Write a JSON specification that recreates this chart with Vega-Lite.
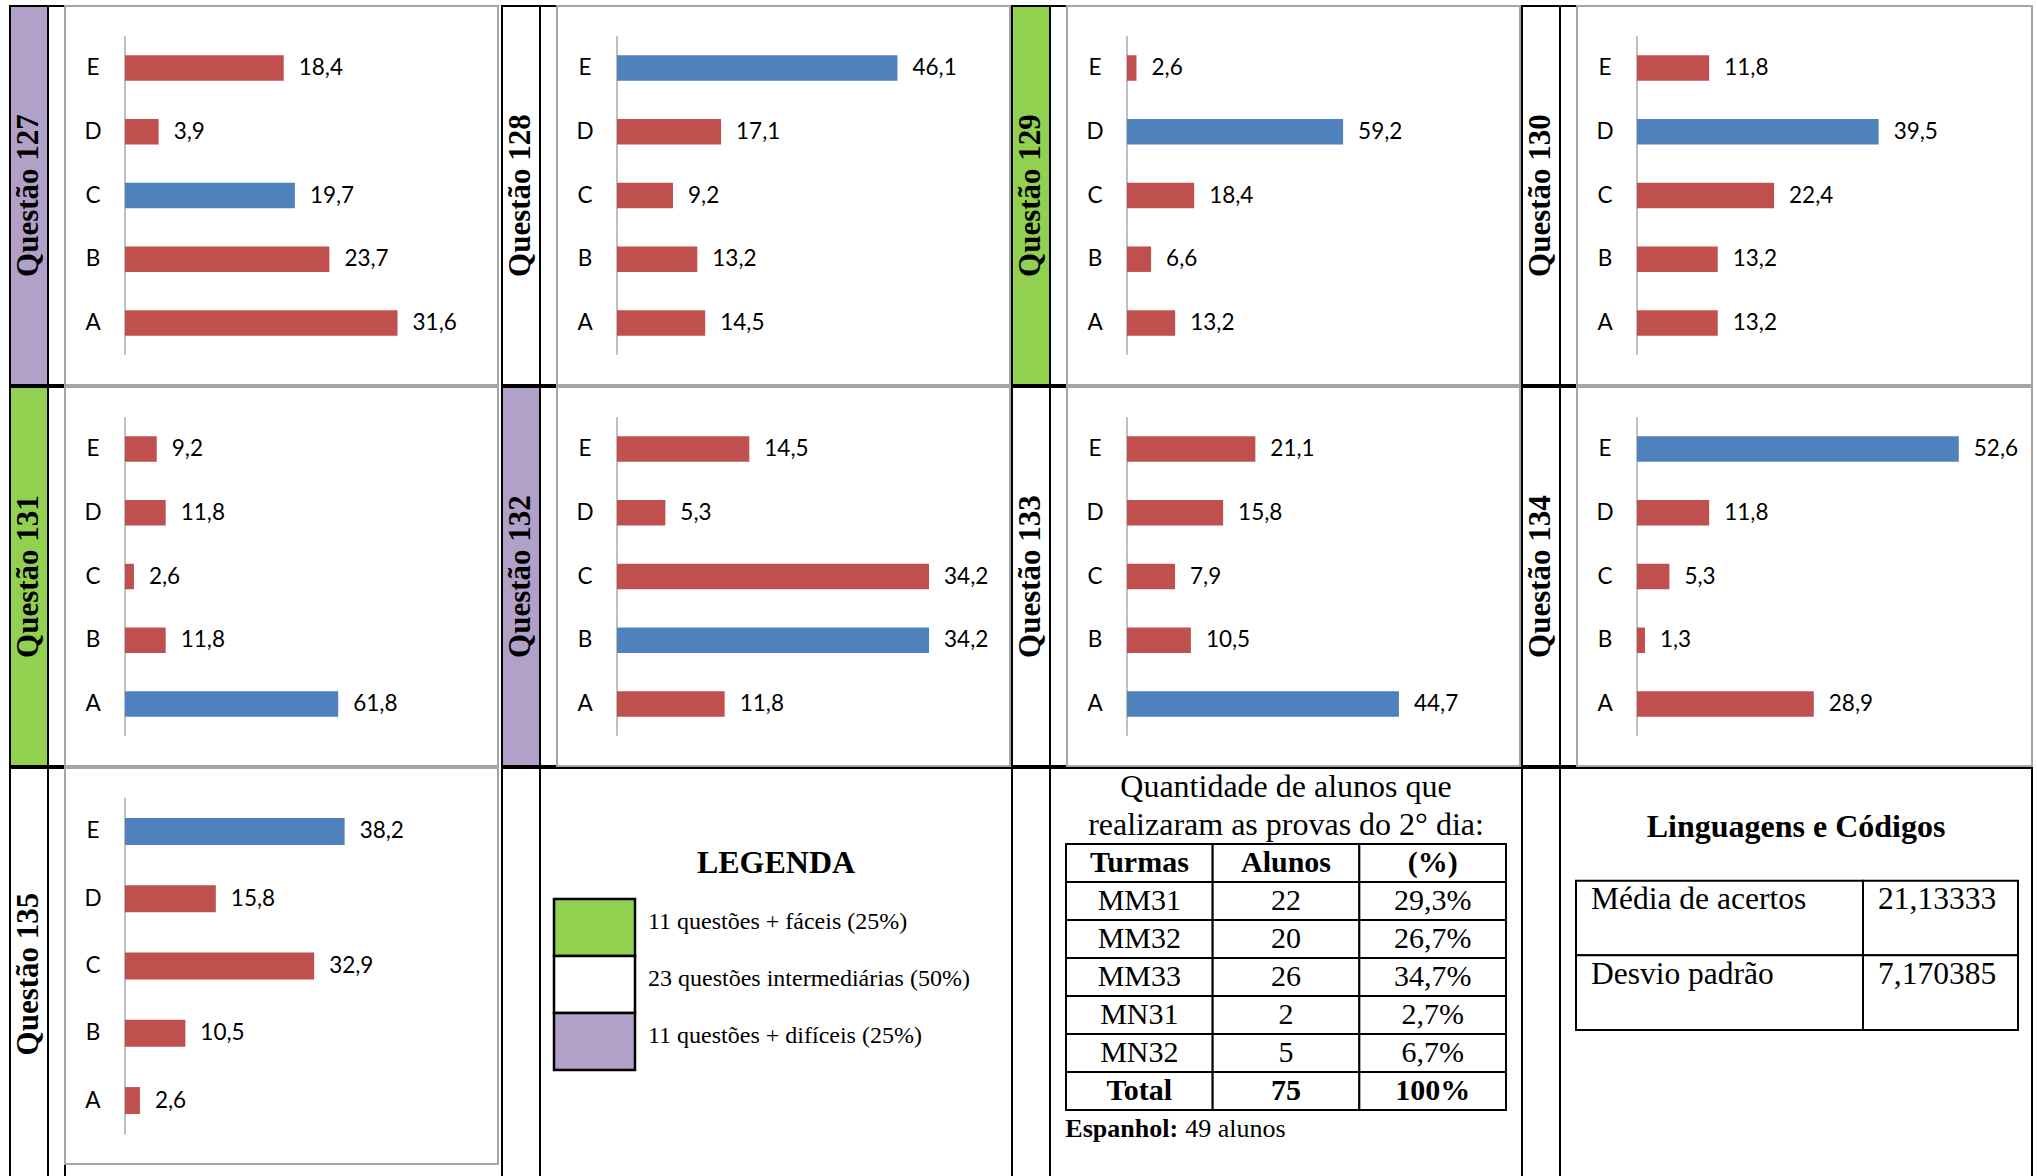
{
  "$schema": "https://vega.github.io/schema/vega-lite/v6.json",
  "padding": {"left": 9, "top": 5, "right": 0, "bottom": 0},
  "background": "white",
  "config": {
    "view": {"stroke": null},
    "locale": {"number": {"decimal": ",", "thousands": ".", "grouping": [3], "currency": ["R$", ""]}},
    "text": {"color": "black"}
  },
  "datasets": {
    "questoes": [
      {"questao": "Questão 127", "nivel": "difícil"},
      {"questao": "Questão 128", "nivel": "intermediária"},
      {"questao": "Questão 129", "nivel": "fácil"},
      {"questao": "Questão 130", "nivel": "intermediária"},
      {"questao": "Questão 131", "nivel": "fácil"},
      {"questao": "Questão 132", "nivel": "difícil"},
      {"questao": "Questão 133", "nivel": "intermediária"},
      {"questao": "Questão 134", "nivel": "intermediária"},
      {"questao": "Questão 135", "nivel": "intermediária"}
    ],
    "respostas": [
      {"questao": "Questão 127", "opcao": "A", "percentual": 31.6, "correta": "não"},
      {"questao": "Questão 127", "opcao": "B", "percentual": 23.7, "correta": "não"},
      {"questao": "Questão 127", "opcao": "C", "percentual": 19.7, "correta": "sim"},
      {"questao": "Questão 127", "opcao": "D", "percentual": 3.9, "correta": "não"},
      {"questao": "Questão 127", "opcao": "E", "percentual": 18.4, "correta": "não"},
      {"questao": "Questão 128", "opcao": "A", "percentual": 14.5, "correta": "não"},
      {"questao": "Questão 128", "opcao": "B", "percentual": 13.2, "correta": "não"},
      {"questao": "Questão 128", "opcao": "C", "percentual": 9.2, "correta": "não"},
      {"questao": "Questão 128", "opcao": "D", "percentual": 17.1, "correta": "não"},
      {"questao": "Questão 128", "opcao": "E", "percentual": 46.1, "correta": "sim"},
      {"questao": "Questão 129", "opcao": "A", "percentual": 13.2, "correta": "não"},
      {"questao": "Questão 129", "opcao": "B", "percentual": 6.6, "correta": "não"},
      {"questao": "Questão 129", "opcao": "C", "percentual": 18.4, "correta": "não"},
      {"questao": "Questão 129", "opcao": "D", "percentual": 59.2, "correta": "sim"},
      {"questao": "Questão 129", "opcao": "E", "percentual": 2.6, "correta": "não"},
      {"questao": "Questão 130", "opcao": "A", "percentual": 13.2, "correta": "não"},
      {"questao": "Questão 130", "opcao": "B", "percentual": 13.2, "correta": "não"},
      {"questao": "Questão 130", "opcao": "C", "percentual": 22.4, "correta": "não"},
      {"questao": "Questão 130", "opcao": "D", "percentual": 39.5, "correta": "sim"},
      {"questao": "Questão 130", "opcao": "E", "percentual": 11.8, "correta": "não"},
      {"questao": "Questão 131", "opcao": "A", "percentual": 61.8, "correta": "sim"},
      {"questao": "Questão 131", "opcao": "B", "percentual": 11.8, "correta": "não"},
      {"questao": "Questão 131", "opcao": "C", "percentual": 2.6, "correta": "não"},
      {"questao": "Questão 131", "opcao": "D", "percentual": 11.8, "correta": "não"},
      {"questao": "Questão 131", "opcao": "E", "percentual": 9.2, "correta": "não"},
      {"questao": "Questão 132", "opcao": "A", "percentual": 11.8, "correta": "não"},
      {"questao": "Questão 132", "opcao": "B", "percentual": 34.2, "correta": "sim"},
      {"questao": "Questão 132", "opcao": "C", "percentual": 34.2, "correta": "não"},
      {"questao": "Questão 132", "opcao": "D", "percentual": 5.3, "correta": "não"},
      {"questao": "Questão 132", "opcao": "E", "percentual": 14.5, "correta": "não"},
      {"questao": "Questão 133", "opcao": "A", "percentual": 44.7, "correta": "sim"},
      {"questao": "Questão 133", "opcao": "B", "percentual": 10.5, "correta": "não"},
      {"questao": "Questão 133", "opcao": "C", "percentual": 7.9, "correta": "não"},
      {"questao": "Questão 133", "opcao": "D", "percentual": 15.8, "correta": "não"},
      {"questao": "Questão 133", "opcao": "E", "percentual": 21.1, "correta": "não"},
      {"questao": "Questão 134", "opcao": "A", "percentual": 28.9, "correta": "não"},
      {"questao": "Questão 134", "opcao": "B", "percentual": 1.3, "correta": "não"},
      {"questao": "Questão 134", "opcao": "C", "percentual": 5.3, "correta": "não"},
      {"questao": "Questão 134", "opcao": "D", "percentual": 11.8, "correta": "não"},
      {"questao": "Questão 134", "opcao": "E", "percentual": 52.6, "correta": "sim"},
      {"questao": "Questão 135", "opcao": "A", "percentual": 2.6, "correta": "não"},
      {"questao": "Questão 135", "opcao": "B", "percentual": 10.5, "correta": "não"},
      {"questao": "Questão 135", "opcao": "C", "percentual": 32.9, "correta": "não"},
      {"questao": "Questão 135", "opcao": "D", "percentual": 15.8, "correta": "não"},
      {"questao": "Questão 135", "opcao": "E", "percentual": 38.2, "correta": "sim"}
    ],
    "legenda": [
      {"nivel": "fácil", "descricao": "11 questões + fáceis (25%)"},
      {"nivel": "intermediária", "descricao": "23 questões intermediárias (50%)"},
      {"nivel": "difícil", "descricao": "11 questões + difíceis (25%)"}
    ],
    "titulo_tabela": [
      {"linha": "Quantidade de alunos que"},
      {"linha": "realizaram as provas do 2° dia:"}
    ],
    "turmas": [
      {"Turmas": "Turmas", "Alunos": "Alunos", "Percentual": "(%)"},
      {"Turmas": "MM31", "Alunos": 22, "Percentual": "29,3%"},
      {"Turmas": "MM32", "Alunos": 20, "Percentual": "26,7%"},
      {"Turmas": "MM33", "Alunos": 26, "Percentual": "34,7%"},
      {"Turmas": "MN31", "Alunos": 2, "Percentual": "2,7%"},
      {"Turmas": "MN32", "Alunos": 5, "Percentual": "6,7%"},
      {"Turmas": "Total", "Alunos": 75, "Percentual": "100%"}
    ],
    "nota": [{"rotulo": "Espanhol:", "valor": "49 alunos"}],
    "linguagens": [
      {"medida": "Média de acertos", "valor": "21,13333"},
      {"medida": "Desvio padrão", "valor": "7,170385"}
    ]
  },
  "vconcat": [
    {
      "hconcat": [
        {"width": 38, "height": 379, "data": {"name": "questoes"}, "transform": [{"filter": "datum.questao == 'Questão 127'"}],
         "layer": [
           {"mark": {"type": "rect", "stroke": "black", "strokeWidth": 2}, "encoding": {"fill": {"field": "nivel", "type": "nominal", "scale": {"domain": ["fácil", "intermediária", "difícil"], "range": ["#92D050", "#FFFFFF", "#B1A0C7"]}, "legend": null}}},
           {"mark": {"type": "text", "angle": 270, "font": "Liberation Serif", "fontSize": 31, "fontWeight": "bold", "color": "black"}, "encoding": {"text": {"field": "questao"}}}
         ]},
        {"width": 17, "height": 379, "view": {"stroke": "black", "strokeWidth": 2}, "data": {"values": []}, "mark": "point", "encoding": {}},
        {"width": 433, "height": 379, "view": {"stroke": "#a6a6a6", "strokeWidth": 2}, "data": {"name": "respostas"}, "transform": [{"filter": "datum.questao == 'Questão 127'"}],
         "encoding": {"y": {"field": "opcao", "type": "nominal", "axis": null, "scale": {"type": "band", "domain": ["E", "D", "C", "B", "A"], "paddingInner": 0.6, "paddingOuter": 0.775}}},
         "layer": [
           {"mark": {"type": "tick", "color": "#868686", "thickness": 1.5, "size": 63.7}, "encoding": {"x": {"datum": 0, "type": "quantitative", "scale": {"domain": [-6.957, 43.25], "nice": false}, "axis": null}}},
           {"mark": {"type": "bar"}, "encoding": {"x": {"field": "percentual", "type": "quantitative", "scale": {"domain": [-6.957, 43.25], "nice": false}, "axis": null}, "color": {"field": "correta", "type": "nominal", "scale": {"domain": ["não", "sim"], "range": ["#C0504D", "#4F81BD"]}, "legend": null}}},
           {"mark": {"type": "text", "dx": -32, "font": "Lato", "fontSize": 22.5}, "encoding": {"x": {"datum": 0, "type": "quantitative"}, "text": {"field": "opcao"}}},
           {"mark": {"type": "text", "align": "left", "dx": 15, "font": "Lato", "fontSize": 22.5}, "encoding": {"x": {"field": "percentual", "type": "quantitative"}, "text": {"field": "percentual", "type": "quantitative", "format": ".1f"}}}
         ]},
        {"width": 4, "height": 379, "data": {"values": []}, "mark": "point", "encoding": {}},
        {"width": 38, "height": 379, "data": {"name": "questoes"}, "transform": [{"filter": "datum.questao == 'Questão 128'"}],
         "layer": [
           {"mark": {"type": "rect", "stroke": "black", "strokeWidth": 2}, "encoding": {"fill": {"field": "nivel", "type": "nominal", "scale": {"domain": ["fácil", "intermediária", "difícil"], "range": ["#92D050", "#FFFFFF", "#B1A0C7"]}, "legend": null}}},
           {"mark": {"type": "text", "angle": 270, "font": "Liberation Serif", "fontSize": 31, "fontWeight": "bold", "color": "black"}, "encoding": {"text": {"field": "questao"}}}
         ]},
        {"width": 17, "height": 379, "view": {"stroke": "black", "strokeWidth": 2}, "data": {"values": []}, "mark": "point", "encoding": {}},
        {"width": 453, "height": 379, "view": {"stroke": "#a6a6a6", "strokeWidth": 2}, "data": {"name": "respostas"}, "transform": [{"filter": "datum.questao == 'Questão 128'"}],
         "encoding": {"y": {"field": "opcao", "type": "nominal", "axis": null, "scale": {"type": "band", "domain": ["E", "D", "C", "B", "A"], "paddingInner": 0.6, "paddingOuter": 0.775}}},
         "layer": [
           {"mark": {"type": "tick", "color": "#868686", "thickness": 1.5, "size": 63.7}, "encoding": {"x": {"datum": 0, "type": "quantitative", "scale": {"domain": [-9.863, 64.6], "nice": false}, "axis": null}}},
           {"mark": {"type": "bar"}, "encoding": {"x": {"field": "percentual", "type": "quantitative", "scale": {"domain": [-9.863, 64.6], "nice": false}, "axis": null}, "color": {"field": "correta", "type": "nominal", "scale": {"domain": ["não", "sim"], "range": ["#C0504D", "#4F81BD"]}, "legend": null}}},
           {"mark": {"type": "text", "dx": -32, "font": "Lato", "fontSize": 22.5}, "encoding": {"x": {"datum": 0, "type": "quantitative"}, "text": {"field": "opcao"}}},
           {"mark": {"type": "text", "align": "left", "dx": 15, "font": "Lato", "fontSize": 22.5}, "encoding": {"x": {"field": "percentual", "type": "quantitative"}, "text": {"field": "percentual", "type": "quantitative", "format": ".1f"}}}
         ]},
        {"width": 2, "height": 379, "data": {"values": []}, "mark": "point", "encoding": {}},
        {"width": 38, "height": 379, "data": {"name": "questoes"}, "transform": [{"filter": "datum.questao == 'Questão 129'"}],
         "layer": [
           {"mark": {"type": "rect", "stroke": "black", "strokeWidth": 2}, "encoding": {"fill": {"field": "nivel", "type": "nominal", "scale": {"domain": ["fácil", "intermediária", "difícil"], "range": ["#92D050", "#FFFFFF", "#B1A0C7"]}, "legend": null}}},
           {"mark": {"type": "text", "angle": 270, "font": "Liberation Serif", "fontSize": 31, "fontWeight": "bold", "color": "black"}, "encoding": {"text": {"field": "questao"}}}
         ]},
        {"width": 17, "height": 379, "view": {"stroke": "black", "strokeWidth": 2}, "data": {"values": []}, "mark": "point", "encoding": {}},
        {"width": 453, "height": 379, "view": {"stroke": "#a6a6a6", "strokeWidth": 2}, "data": {"name": "respostas"}, "transform": [{"filter": "datum.questao == 'Questão 129'"}],
         "encoding": {"y": {"field": "opcao", "type": "nominal", "axis": null, "scale": {"type": "band", "domain": ["E", "D", "C", "B", "A"], "paddingInner": 0.6, "paddingOuter": 0.775}}},
         "layer": [
           {"mark": {"type": "tick", "color": "#868686", "thickness": 1.5, "size": 63.7}, "encoding": {"x": {"datum": 0, "type": "quantitative", "scale": {"domain": [-16.44, 107.67], "nice": false}, "axis": null}}},
           {"mark": {"type": "bar"}, "encoding": {"x": {"field": "percentual", "type": "quantitative", "scale": {"domain": [-16.44, 107.67], "nice": false}, "axis": null}, "color": {"field": "correta", "type": "nominal", "scale": {"domain": ["não", "sim"], "range": ["#C0504D", "#4F81BD"]}, "legend": null}}},
           {"mark": {"type": "text", "dx": -32, "font": "Lato", "fontSize": 22.5}, "encoding": {"x": {"datum": 0, "type": "quantitative"}, "text": {"field": "opcao"}}},
           {"mark": {"type": "text", "align": "left", "dx": 15, "font": "Lato", "fontSize": 22.5}, "encoding": {"x": {"field": "percentual", "type": "quantitative"}, "text": {"field": "percentual", "type": "quantitative", "format": ".1f"}}}
         ]},
        {"width": 2, "height": 379, "data": {"values": []}, "mark": "point", "encoding": {}},
        {"width": 38, "height": 379, "data": {"name": "questoes"}, "transform": [{"filter": "datum.questao == 'Questão 130'"}],
         "layer": [
           {"mark": {"type": "rect", "stroke": "black", "strokeWidth": 2}, "encoding": {"fill": {"field": "nivel", "type": "nominal", "scale": {"domain": ["fácil", "intermediária", "difícil"], "range": ["#92D050", "#FFFFFF", "#B1A0C7"]}, "legend": null}}},
           {"mark": {"type": "text", "angle": 270, "font": "Liberation Serif", "fontSize": 31, "fontWeight": "bold", "color": "black"}, "encoding": {"text": {"field": "questao"}}}
         ]},
        {"width": 17, "height": 379, "view": {"stroke": "black", "strokeWidth": 2}, "data": {"values": []}, "mark": "point", "encoding": {}},
        {"width": 455, "height": 379, "view": {"stroke": "#a6a6a6", "strokeWidth": 2}, "data": {"name": "respostas"}, "transform": [{"filter": "datum.questao == 'Questão 130'"}],
         "encoding": {"y": {"field": "opcao", "type": "nominal", "axis": null, "scale": {"type": "band", "domain": ["E", "D", "C", "B", "A"], "paddingInner": 0.6, "paddingOuter": 0.775}}},
         "layer": [
           {"mark": {"type": "tick", "color": "#868686", "thickness": 1.5, "size": 63.7}, "encoding": {"x": {"datum": 0, "type": "quantitative", "scale": {"domain": [-9.809, 64.57], "nice": false}, "axis": null}}},
           {"mark": {"type": "bar"}, "encoding": {"x": {"field": "percentual", "type": "quantitative", "scale": {"domain": [-9.809, 64.57], "nice": false}, "axis": null}, "color": {"field": "correta", "type": "nominal", "scale": {"domain": ["não", "sim"], "range": ["#C0504D", "#4F81BD"]}, "legend": null}}},
           {"mark": {"type": "text", "dx": -32, "font": "Lato", "fontSize": 22.5}, "encoding": {"x": {"datum": 0, "type": "quantitative"}, "text": {"field": "opcao"}}},
           {"mark": {"type": "text", "align": "left", "dx": 15, "font": "Lato", "fontSize": 22.5}, "encoding": {"x": {"field": "percentual", "type": "quantitative"}, "text": {"field": "percentual", "type": "quantitative", "format": ".1f"}}}
         ]}
      ],
      "spacing": 0, "bounds": "flush"
    },
    {
      "hconcat": [
        {"width": 38, "height": 379, "data": {"name": "questoes"}, "transform": [{"filter": "datum.questao == 'Questão 131'"}],
         "layer": [
           {"mark": {"type": "rect", "stroke": "black", "strokeWidth": 2}, "encoding": {"fill": {"field": "nivel", "type": "nominal", "scale": {"domain": ["fácil", "intermediária", "difícil"], "range": ["#92D050", "#FFFFFF", "#B1A0C7"]}, "legend": null}}},
           {"mark": {"type": "text", "angle": 270, "font": "Liberation Serif", "fontSize": 31, "fontWeight": "bold", "color": "black"}, "encoding": {"text": {"field": "questao"}}}
         ]},
        {"width": 17, "height": 379, "view": {"stroke": "black", "strokeWidth": 2}, "data": {"values": []}, "mark": "point", "encoding": {}},
        {"width": 433, "height": 379, "view": {"stroke": "#a6a6a6", "strokeWidth": 2}, "data": {"name": "respostas"}, "transform": [{"filter": "datum.questao == 'Questão 131'"}],
         "encoding": {"y": {"field": "opcao", "type": "nominal", "axis": null, "scale": {"type": "band", "domain": ["E", "D", "C", "B", "A"], "paddingInner": 0.6, "paddingOuter": 0.775}}},
         "layer": [
           {"mark": {"type": "tick", "color": "#868686", "thickness": 1.5, "size": 63.7}, "encoding": {"x": {"datum": 0, "type": "quantitative", "scale": {"domain": [-17.39, 108.12], "nice": false}, "axis": null}}},
           {"mark": {"type": "bar"}, "encoding": {"x": {"field": "percentual", "type": "quantitative", "scale": {"domain": [-17.39, 108.12], "nice": false}, "axis": null}, "color": {"field": "correta", "type": "nominal", "scale": {"domain": ["não", "sim"], "range": ["#C0504D", "#4F81BD"]}, "legend": null}}},
           {"mark": {"type": "text", "dx": -32, "font": "Lato", "fontSize": 22.5}, "encoding": {"x": {"datum": 0, "type": "quantitative"}, "text": {"field": "opcao"}}},
           {"mark": {"type": "text", "align": "left", "dx": 15, "font": "Lato", "fontSize": 22.5}, "encoding": {"x": {"field": "percentual", "type": "quantitative"}, "text": {"field": "percentual", "type": "quantitative", "format": ".1f"}}}
         ]},
        {"width": 4, "height": 379, "data": {"values": []}, "mark": "point", "encoding": {}},
        {"width": 38, "height": 379, "data": {"name": "questoes"}, "transform": [{"filter": "datum.questao == 'Questão 132'"}],
         "layer": [
           {"mark": {"type": "rect", "stroke": "black", "strokeWidth": 2}, "encoding": {"fill": {"field": "nivel", "type": "nominal", "scale": {"domain": ["fácil", "intermediária", "difícil"], "range": ["#92D050", "#FFFFFF", "#B1A0C7"]}, "legend": null}}},
           {"mark": {"type": "text", "angle": 270, "font": "Liberation Serif", "fontSize": 31, "fontWeight": "bold", "color": "black"}, "encoding": {"text": {"field": "questao"}}}
         ]},
        {"width": 17, "height": 379, "view": {"stroke": "black", "strokeWidth": 2}, "data": {"values": []}, "mark": "point", "encoding": {}},
        {"width": 453, "height": 379, "view": {"stroke": "#a6a6a6", "strokeWidth": 2}, "data": {"name": "respostas"}, "transform": [{"filter": "datum.questao == 'Questão 132'"}],
         "encoding": {"y": {"field": "opcao", "type": "nominal", "axis": null, "scale": {"type": "band", "domain": ["E", "D", "C", "B", "A"], "paddingInner": 0.6, "paddingOuter": 0.775}}},
         "layer": [
           {"mark": {"type": "tick", "color": "#868686", "thickness": 1.5, "size": 63.7}, "encoding": {"x": {"datum": 0, "type": "quantitative", "scale": {"domain": [-6.575, 43.07], "nice": false}, "axis": null}}},
           {"mark": {"type": "bar"}, "encoding": {"x": {"field": "percentual", "type": "quantitative", "scale": {"domain": [-6.575, 43.07], "nice": false}, "axis": null}, "color": {"field": "correta", "type": "nominal", "scale": {"domain": ["não", "sim"], "range": ["#C0504D", "#4F81BD"]}, "legend": null}}},
           {"mark": {"type": "text", "dx": -32, "font": "Lato", "fontSize": 22.5}, "encoding": {"x": {"datum": 0, "type": "quantitative"}, "text": {"field": "opcao"}}},
           {"mark": {"type": "text", "align": "left", "dx": 15, "font": "Lato", "fontSize": 22.5}, "encoding": {"x": {"field": "percentual", "type": "quantitative"}, "text": {"field": "percentual", "type": "quantitative", "format": ".1f"}}}
         ]},
        {"width": 2, "height": 379, "data": {"values": []}, "mark": "point", "encoding": {}},
        {"width": 38, "height": 379, "data": {"name": "questoes"}, "transform": [{"filter": "datum.questao == 'Questão 133'"}],
         "layer": [
           {"mark": {"type": "rect", "stroke": "black", "strokeWidth": 2}, "encoding": {"fill": {"field": "nivel", "type": "nominal", "scale": {"domain": ["fácil", "intermediária", "difícil"], "range": ["#92D050", "#FFFFFF", "#B1A0C7"]}, "legend": null}}},
           {"mark": {"type": "text", "angle": 270, "font": "Liberation Serif", "fontSize": 31, "fontWeight": "bold", "color": "black"}, "encoding": {"text": {"field": "questao"}}}
         ]},
        {"width": 17, "height": 379, "view": {"stroke": "black", "strokeWidth": 2}, "data": {"values": []}, "mark": "point", "encoding": {}},
        {"width": 453, "height": 379, "view": {"stroke": "#a6a6a6", "strokeWidth": 2}, "data": {"name": "respostas"}, "transform": [{"filter": "datum.questao == 'Questão 133'"}],
         "encoding": {"y": {"field": "opcao", "type": "nominal", "axis": null, "scale": {"type": "band", "domain": ["E", "D", "C", "B", "A"], "paddingInner": 0.6, "paddingOuter": 0.775}}},
         "layer": [
           {"mark": {"type": "tick", "color": "#868686", "thickness": 1.5, "size": 63.7}, "encoding": {"x": {"datum": 0, "type": "quantitative", "scale": {"domain": [-9.863, 64.6], "nice": false}, "axis": null}}},
           {"mark": {"type": "bar"}, "encoding": {"x": {"field": "percentual", "type": "quantitative", "scale": {"domain": [-9.863, 64.6], "nice": false}, "axis": null}, "color": {"field": "correta", "type": "nominal", "scale": {"domain": ["não", "sim"], "range": ["#C0504D", "#4F81BD"]}, "legend": null}}},
           {"mark": {"type": "text", "dx": -32, "font": "Lato", "fontSize": 22.5}, "encoding": {"x": {"datum": 0, "type": "quantitative"}, "text": {"field": "opcao"}}},
           {"mark": {"type": "text", "align": "left", "dx": 15, "font": "Lato", "fontSize": 22.5}, "encoding": {"x": {"field": "percentual", "type": "quantitative"}, "text": {"field": "percentual", "type": "quantitative", "format": ".1f"}}}
         ]},
        {"width": 2, "height": 379, "data": {"values": []}, "mark": "point", "encoding": {}},
        {"width": 38, "height": 379, "data": {"name": "questoes"}, "transform": [{"filter": "datum.questao == 'Questão 134'"}],
         "layer": [
           {"mark": {"type": "rect", "stroke": "black", "strokeWidth": 2}, "encoding": {"fill": {"field": "nivel", "type": "nominal", "scale": {"domain": ["fácil", "intermediária", "difícil"], "range": ["#92D050", "#FFFFFF", "#B1A0C7"]}, "legend": null}}},
           {"mark": {"type": "text", "angle": 270, "font": "Liberation Serif", "fontSize": 31, "fontWeight": "bold", "color": "black"}, "encoding": {"text": {"field": "questao"}}}
         ]},
        {"width": 17, "height": 379, "view": {"stroke": "black", "strokeWidth": 2}, "data": {"values": []}, "mark": "point", "encoding": {}},
        {"width": 455, "height": 379, "view": {"stroke": "#a6a6a6", "strokeWidth": 2}, "data": {"name": "respostas"}, "transform": [{"filter": "datum.questao == 'Questão 134'"}],
         "encoding": {"y": {"field": "opcao", "type": "nominal", "axis": null, "scale": {"type": "band", "domain": ["E", "D", "C", "B", "A"], "paddingInner": 0.6, "paddingOuter": 0.775}}},
         "layer": [
           {"mark": {"type": "tick", "color": "#868686", "thickness": 1.5, "size": 63.7}, "encoding": {"x": {"datum": 0, "type": "quantitative", "scale": {"domain": [-9.809, 64.57], "nice": false}, "axis": null}}},
           {"mark": {"type": "bar"}, "encoding": {"x": {"field": "percentual", "type": "quantitative", "scale": {"domain": [-9.809, 64.57], "nice": false}, "axis": null}, "color": {"field": "correta", "type": "nominal", "scale": {"domain": ["não", "sim"], "range": ["#C0504D", "#4F81BD"]}, "legend": null}}},
           {"mark": {"type": "text", "dx": -32, "font": "Lato", "fontSize": 22.5}, "encoding": {"x": {"datum": 0, "type": "quantitative"}, "text": {"field": "opcao"}}},
           {"mark": {"type": "text", "align": "left", "dx": 15, "font": "Lato", "fontSize": 22.5}, "encoding": {"x": {"field": "percentual", "type": "quantitative"}, "text": {"field": "percentual", "type": "quantitative", "format": ".1f"}}}
         ]}
      ],
      "spacing": 0, "bounds": "flush"
    },
    {
      "hconcat": [
        {"width": 38, "height": 412, "data": {"name": "questoes"}, "transform": [{"filter": "datum.questao == 'Questão 135'"}],
         "layer": [
           {"mark": {"type": "rect", "stroke": "black", "strokeWidth": 2}, "encoding": {"fill": {"field": "nivel", "type": "nominal", "scale": {"domain": ["fácil", "intermediária", "difícil"], "range": ["#92D050", "#FFFFFF", "#B1A0C7"]}, "legend": null}}},
           {"mark": {"type": "text", "angle": 270, "font": "Liberation Serif", "fontSize": 31, "fontWeight": "bold", "color": "black"}, "encoding": {"text": {"field": "questao"}}}
         ]},
        {"width": 17, "height": 412, "view": {"stroke": "black", "strokeWidth": 2}, "data": {"values": []}, "mark": "point", "encoding": {}},
        {"width": 433, "height": 396, "view": {"stroke": "#a6a6a6", "strokeWidth": 2}, "data": {"name": "respostas"}, "transform": [{"filter": "datum.questao == 'Questão 135'"}],
         "encoding": {"y": {"field": "opcao", "type": "nominal", "axis": null, "scale": {"type": "band", "domain": ["E", "D", "C", "B", "A"], "paddingInner": 0.6, "paddingOuter": 0.744}}},
         "layer": [
           {"mark": {"type": "tick", "color": "#868686", "thickness": 1.5, "size": 67.25}, "encoding": {"x": {"datum": 0, "type": "quantitative", "scale": {"domain": [-10.43, 64.87], "nice": false}, "axis": null}}},
           {"mark": {"type": "bar"}, "encoding": {"x": {"field": "percentual", "type": "quantitative", "scale": {"domain": [-10.43, 64.87], "nice": false}, "axis": null}, "color": {"field": "correta", "type": "nominal", "scale": {"domain": ["não", "sim"], "range": ["#C0504D", "#4F81BD"]}, "legend": null}}},
           {"mark": {"type": "text", "dx": -32, "font": "Lato", "fontSize": 22.5}, "encoding": {"x": {"datum": 0, "type": "quantitative"}, "text": {"field": "opcao"}}},
           {"mark": {"type": "text", "align": "left", "dx": 15, "font": "Lato", "fontSize": 22.5}, "encoding": {"x": {"field": "percentual", "type": "quantitative"}, "text": {"field": "percentual", "type": "quantitative", "format": ".1f"}}}
         ]},
        {"width": 4, "height": 412, "data": {"values": []}, "mark": "point", "encoding": {}},
        {"width": 38, "height": 412, "view": {"stroke": "black", "strokeWidth": 2}, "data": {"values": []}, "mark": "point", "encoding": {}},
        {"width": 472, "height": 412, "view": {"stroke": "black", "strokeWidth": 2}, "data": {"name": "legenda"},
         "encoding": {"y": {"field": "nivel", "type": "nominal", "axis": null, "scale": {"type": "band", "domain": ["LEGENDA", "fácil", "intermediária", "difícil"], "range": [74, 302], "paddingInner": 0, "paddingOuter": 0}}},
         "layer": [
           {"mark": {"type": "rect", "stroke": "black", "strokeWidth": 2.5}, "encoding": {"x": {"datum": "amostra", "type": "nominal", "axis": null, "scale": {"type": "band", "domain": ["amostra"], "range": [14, 95], "paddingInner": 0, "paddingOuter": 0}}, "fill": {"field": "nivel", "type": "nominal", "scale": {"domain": ["fácil", "intermediária", "difícil"], "range": ["#92D050", "#FFFFFF", "#B1A0C7"]}, "legend": null}}},
           {"mark": {"type": "text", "align": "left", "dx": 53.5, "dy": -6, "font": "Liberation Serif", "fontSize": 24}, "encoding": {"x": {"datum": "amostra", "type": "nominal"}, "text": {"field": "descricao"}}},
           {"data": {"values": [{"titulo": "LEGENDA"}]}, "mark": {"type": "text", "dy": -8, "font": "Liberation Serif", "fontSize": 32, "fontWeight": "bold"}, "encoding": {"y": {"field": "titulo", "type": "nominal"}, "text": {"field": "titulo"}}}
         ]},
        {"width": 38, "height": 412, "view": {"stroke": "black", "strokeWidth": 2}, "data": {"values": []}, "mark": "point", "encoding": {}},
        {"width": 472, "height": 412, "view": {"stroke": "black", "strokeWidth": 2},
         "layer": [
           {"data": {"name": "titulo_tabela"}, "mark": {"type": "text", "font": "Liberation Serif", "fontSize": 32},
            "encoding": {
              "x": {"datum": "Alunos", "type": "nominal", "axis": null, "scale": {"type": "band", "domain": ["Turmas", "Alunos", "Percentual"], "range": [16, 456], "paddingInner": 0, "paddingOuter": 0}},
              "y": {"field": "linha", "type": "nominal", "axis": null, "scale": {"type": "band", "domain": ["Quantidade de alunos que", "realizaram as provas do 2° dia:", "Turmas", "MM31", "MM32", "MM33", "MN31", "MN32", "Total", "Espanhol:"], "range": [0, 380], "paddingInner": 0, "paddingOuter": 0}},
              "text": {"field": "linha"}}},
           {"data": {"name": "turmas"}, "transform": [{"fold": ["Turmas", "Alunos", "Percentual"], "as": ["coluna", "valor"]}],
            "encoding": {"x": {"field": "coluna", "type": "nominal"}, "y": {"field": "Turmas", "type": "nominal"}},
            "layer": [
              {"mark": {"type": "rect", "fill": "white", "stroke": "black", "strokeWidth": 2}},
              {"transform": [{"filter": "datum.Turmas != 'Turmas' && datum.Turmas != 'Total'"}], "mark": {"type": "text", "font": "Liberation Serif", "fontSize": 30}, "encoding": {"text": {"field": "valor"}}},
              {"transform": [{"filter": "datum.Turmas == 'Turmas' || datum.Turmas == 'Total'"}], "mark": {"type": "text", "font": "Liberation Serif", "fontSize": 30, "fontWeight": "bold"}, "encoding": {"text": {"field": "valor"}}}
            ]},
           {"data": {"name": "nota"}, "encoding": {"x": {"datum": "Turmas", "type": "nominal"}, "y": {"field": "rotulo", "type": "nominal"}},
            "layer": [
              {"mark": {"type": "text", "align": "left", "dx": -74, "font": "Liberation Serif", "fontSize": 26, "fontWeight": "bold"}, "encoding": {"text": {"field": "rotulo"}}},
              {"mark": {"type": "text", "align": "left", "dx": 46, "font": "Liberation Serif", "fontSize": 26}, "encoding": {"text": {"field": "valor"}}}
            ]}
         ]},
        {"width": 38, "height": 412, "view": {"stroke": "black", "strokeWidth": 2}, "data": {"values": []}, "mark": "point", "encoding": {}},
        {"width": 472, "height": 412, "view": {"stroke": "black", "strokeWidth": 2},
         "resolve": {"scale": {"x": "independent"}},
         "layer": [
           {"data": {"values": [{"titulo": "Linguagens e Códigos"}]}, "mark": {"type": "text", "dy": -16, "font": "Liberation Serif", "fontSize": 32, "fontWeight": "bold"},
            "encoding": {"y": {"field": "titulo", "type": "nominal", "axis": null, "scale": {"type": "band", "domain": ["Linguagens e Códigos", "Média de acertos", "Desvio padrão"], "range": [38, 262], "paddingInner": 0, "paddingOuter": 0}}, "text": {"field": "titulo"}}},
           {"data": {"name": "linguagens"},
            "encoding": {"x": {"datum": "medida", "type": "nominal", "axis": null, "scale": {"type": "band", "domain": ["medida"], "range": [16, 303], "paddingInner": 0, "paddingOuter": 0}}, "y": {"field": "medida", "type": "nominal"}},
            "layer": [
              {"mark": {"type": "rect", "fill": "white", "stroke": "black", "strokeWidth": 2}},
              {"mark": {"type": "text", "align": "left", "dx": -128.5, "dy": -18, "font": "Liberation Serif", "fontSize": 31.5}, "encoding": {"text": {"field": "medida"}}}
            ]},
           {"data": {"name": "linguagens"},
            "encoding": {"x": {"datum": "valor", "type": "nominal", "axis": null, "scale": {"type": "band", "domain": ["valor"], "range": [303, 458], "paddingInner": 0, "paddingOuter": 0}}, "y": {"field": "medida", "type": "nominal"}},
            "layer": [
              {"mark": {"type": "rect", "fill": "white", "stroke": "black", "strokeWidth": 2}},
              {"mark": {"type": "text", "align": "left", "dx": -62.5, "dy": -18, "font": "Liberation Serif", "fontSize": 31.5}, "encoding": {"text": {"field": "valor"}}}
            ]}
         ]}
      ],
      "spacing": 0, "bounds": "flush"
    }
  ],
  "spacing": 0
}
